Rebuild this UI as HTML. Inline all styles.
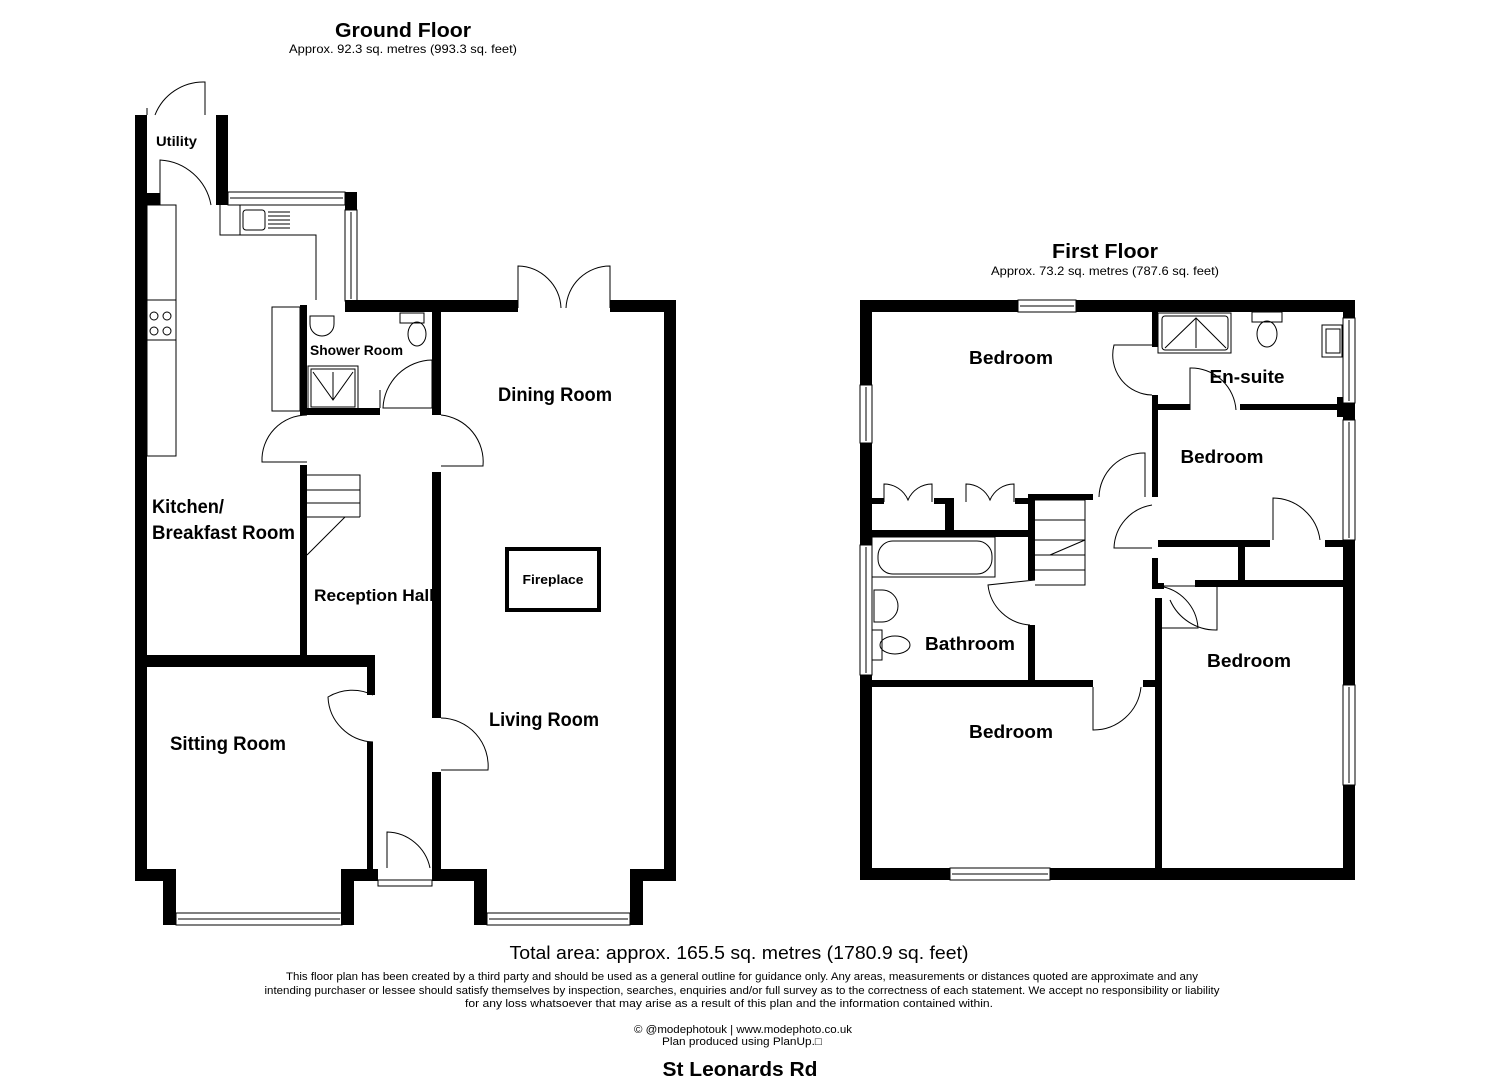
<!DOCTYPE html>
<html><head><meta charset="utf-8"><style>
html,body{margin:0;padding:0;background:#fff;}
svg{display:block;}
text{font-family:"Liberation Sans",sans-serif;fill:#000;}
.b{font-weight:bold;}
.t{fill:none;stroke:#000;stroke-width:1;}
.w{fill:#000;}
.win{fill:#fff;stroke:#000;stroke-width:1;}
</style></head><body>
<svg width="1485" height="1080" viewBox="0 0 1485 1080" xmlns="http://www.w3.org/2000/svg">
<!-- Titles -->
<text x="403" y="37" class="b" font-size="20" text-anchor="middle" textLength="136" lengthAdjust="spacingAndGlyphs">Ground Floor</text>
<text x="403" y="53" font-size="12" text-anchor="middle" textLength="228" lengthAdjust="spacingAndGlyphs">Approx. 92.3 sq. metres (993.3 sq. feet)</text>
<text x="1105" y="258" class="b" font-size="20" text-anchor="middle" textLength="106" lengthAdjust="spacingAndGlyphs">First Floor</text>
<text x="1105" y="275" font-size="12" text-anchor="middle" textLength="228" lengthAdjust="spacingAndGlyphs">Approx. 73.2 sq. metres (787.6 sq. feet)</text>

<!-- GROUND FLOOR walls -->
<rect class="w" x="135" y="115" width="12" height="766"/>
<rect class="w" x="135" y="869" width="41" height="12"/>
<rect class="w" x="163" y="869" width="13" height="56"/>
<rect class="win" x="176" y="913" width="166" height="12"/>
<line class="t" x1="178" y1="919" x2="340" y2="919"/>
<rect class="w" x="341" y="869" width="13" height="56"/>
<rect class="w" x="341" y="869" width="37" height="12"/>
<rect class="w" x="216" y="115" width="12" height="90"/>
<rect class="w" x="147" y="193" width="13" height="12"/>
<rect class="win" x="228" y="192" width="117" height="13"/>
<line class="t" x1="230" y1="198" x2="343" y2="198"/>
<rect class="w" x="345" y="192" width="12" height="18"/>
<rect class="win" x="345" y="210" width="12" height="91"/>
<line class="t" x1="351" y1="212" x2="351" y2="299"/>
<rect class="w" x="345" y="300" width="173" height="12"/>
<rect class="w" x="610" y="300" width="66" height="12"/>
<rect class="w" x="664" y="300" width="12" height="581"/>
<rect class="w" x="630" y="869" width="46" height="12"/>
<rect class="w" x="630" y="869" width="13" height="56"/>
<rect class="win" x="487" y="913" width="143" height="12"/>
<line class="t" x1="489" y1="919" x2="628" y2="919"/>
<rect class="w" x="474" y="869" width="13" height="56"/>
<rect class="w" x="432" y="869" width="55" height="12"/>
<!-- shower room -->
<rect class="w" x="300" y="305" width="7" height="110"/>
<rect class="w" x="300" y="408" width="80" height="7"/>
<rect class="w" x="432" y="305" width="9" height="110"/>
<!-- hall / living wall -->
<rect class="w" x="432" y="472" width="9" height="246"/>
<rect class="w" x="432" y="772" width="9" height="108"/>
<!-- kitchen/hall wall -->
<rect class="w" x="300" y="465" width="7" height="200"/>
<rect class="w" x="147" y="655" width="228" height="12"/>
<rect class="w" x="367" y="655" width="8" height="40"/>
<rect class="w" x="367" y="742" width="6" height="127"/>
<!-- doors ground -->
<path class="t" d="M147 115 L147 108 M155 115 A52 52 0 0 1 205 82 L205 115"/>
<path class="t" d="M160 205 L160 160 A55 55 0 0 1 211 205"/>
<path class="t" d="M518 308 L518 266 A44 44 0 0 1 561 308 M610 308 L610 266 A44 44 0 0 0 566 308"/>
<path class="t" d="M380 408 L380 390 M432 360 A50 50 0 0 0 383 408 L432 408 M432 360 L432 408"/>
<path class="t" d="M307 415 A45 45 0 0 0 262 462 L307 462"/>
<path class="t" d="M441 415 A47 47 0 0 1 483 466 L441 466"/>
<path class="t" d="M373 695 A47 47 0 0 0 328 697 A47 47 0 0 0 373 742"/>
<path class="t" d="M441 718 A48 48 0 0 1 488 770 L441 770"/>
<path class="t" d="M387 868 L387 832 A45 45 0 0 1 430 868"/>
<rect class="t" x="378" y="880" width="54" height="6"/>
<!-- kitchen fittings -->
<rect class="t" x="147" y="205" width="29" height="251"/>
<line class="t" x1="147" y1="300" x2="176" y2="300"/><line class="t" x1="147" y1="340" x2="176" y2="340"/>
<circle class="t" cx="154" cy="316" r="4"/><circle class="t" cx="167" cy="316" r="4"/>
<circle class="t" cx="154" cy="331" r="4"/><circle class="t" cx="167" cy="331" r="4"/>
<path class="t" d="M220 205 L220 235 L316 235 L316 300"/>
<line class="t" x1="240" y1="205" x2="240" y2="235"/>
<rect class="t" x="243" y="210" width="22" height="20" rx="3"/>
<path class="t" d="M268 212 h22 M268 216 h22 M268 220 h22 M268 224 h22 M268 228 h22"/>
<rect class="t" x="272" y="307" width="28" height="104"/>
<!-- shower room fittings -->
<path class="t" d="M310 316 h24 v8 a12 12 0 0 1 -24 0 z"/>
<rect class="t" x="400" y="313" width="24" height="10"/>
<ellipse class="t" cx="417" cy="334" rx="9" ry="12"/>
<rect class="t" x="308" y="366" width="50" height="44"/>
<rect class="t" x="311" y="369" width="44" height="38"/>
<path class="t" d="M313 372 L333 400 L353 372 M333 372 L333 400"/>
<!-- stairs -->
<path class="t" d="M307 475 L360 475 L360 490 L307 490 M307 503 L360 503 M307 517 L360 517 L345 517 L307 555 M360 490 L360 517"/>
<!-- fireplace -->
<rect x="507" y="549" width="92" height="61" fill="none" stroke="#000" stroke-width="4"/>
<!-- ground labels -->
<text x="156" y="146" class="b" font-size="14" textLength="41" lengthAdjust="spacingAndGlyphs">Utility</text>
<text x="310" y="355" class="b" font-size="14" textLength="93" lengthAdjust="spacingAndGlyphs">Shower Room</text>
<text x="555" y="401" class="b" font-size="19" text-anchor="middle" textLength="114" lengthAdjust="spacingAndGlyphs">Dining Room</text>
<text x="152" y="513" class="b" font-size="19" textLength="72" lengthAdjust="spacingAndGlyphs">Kitchen/</text>
<text x="152" y="539" class="b" font-size="19" textLength="143" lengthAdjust="spacingAndGlyphs">Breakfast Room</text>
<text x="553" y="584" class="b" font-size="13" text-anchor="middle" textLength="61" lengthAdjust="spacingAndGlyphs">Fireplace</text>
<text x="314" y="601" class="b" font-size="17" textLength="120" lengthAdjust="spacingAndGlyphs">Reception Hall</text>
<text x="489" y="726" class="b" font-size="19" textLength="110" lengthAdjust="spacingAndGlyphs">Living Room</text>
<text x="170" y="750" class="b" font-size="19" textLength="116" lengthAdjust="spacingAndGlyphs">Sitting Room</text>

<!-- FIRST FLOOR outer -->
<rect class="w" x="860" y="300" width="495" height="12"/>
<rect class="w" x="860" y="868" width="495" height="12"/>
<rect class="w" x="860" y="300" width="12" height="580"/>
<rect class="w" x="1343" y="300" width="12" height="580"/>
<rect class="win" x="1018" y="300" width="58" height="12"/><line class="t" x1="1020" y1="306" x2="1074" y2="306"/>
<rect class="win" x="950" y="868" width="100" height="12"/><line class="t" x1="952" y1="874" x2="1048" y2="874"/>
<rect class="win" x="860" y="385" width="12" height="58"/><line class="t" x1="866" y1="387" x2="866" y2="441"/>
<rect class="win" x="860" y="545" width="12" height="130"/><line class="t" x1="866" y1="547" x2="866" y2="673"/>
<rect class="win" x="1343" y="318" width="12" height="85"/><line class="t" x1="1349" y1="320" x2="1349" y2="401"/>
<rect class="win" x="1343" y="420" width="12" height="120"/><line class="t" x1="1349" y1="422" x2="1349" y2="538"/>
<rect class="win" x="1343" y="685" width="12" height="100"/><line class="t" x1="1349" y1="687" x2="1349" y2="783"/>
<!-- first floor internal -->
<rect class="w" x="1152" y="312" width="6" height="35"/>
<rect class="w" x="1152" y="395" width="6" height="102"/>
<rect class="w" x="1158" y="404" width="32" height="6"/>
<rect class="w" x="1240" y="404" width="103" height="6"/>
<rect class="w" x="1337" y="397" width="6" height="20"/>
<rect class="w" x="872" y="498" width="12" height="6"/>
<rect class="w" x="934" y="498" width="20" height="6"/>
<rect class="w" x="945" y="498" width="9" height="36"/>
<rect class="w" x="1015" y="498" width="14" height="6"/>
<rect class="w" x="1028" y="494" width="65" height="6"/>
<rect class="w" x="872" y="530" width="157" height="7"/>
<rect class="w" x="1028" y="494" width="7" height="86"/>
<rect class="w" x="1028" y="625" width="7" height="60"/>
<rect class="w" x="872" y="680" width="221" height="7"/>
<rect class="w" x="1143" y="680" width="15" height="7"/>
<rect class="w" x="1158" y="540" width="112" height="7"/>
<rect class="w" x="1325" y="540" width="18" height="7"/>
<rect class="w" x="1238" y="545" width="7" height="40"/>
<rect class="w" x="1195" y="580" width="148" height="7"/>
<rect class="w" x="1152" y="558" width="6" height="28"/>
<rect class="w" x="1152" y="583" width="12" height="6"/>
<rect class="w" x="1155" y="598" width="7" height="272"/>
<!-- first floor doors -->
<path class="t" d="M1152 345 L1114 345 A40 40 0 0 0 1152 395"/>
<path class="t" d="M1190 410 L1190 368 A45 45 0 0 1 1236 410"/>
<path class="t" d="M1145 497 L1145 453 A45 45 0 0 0 1099 497"/>
<path class="t" d="M1152 505 A45 45 0 0 0 1114 548 L1152 548"/>
<path class="t" d="M1273 540 L1273 498 A48 48 0 0 1 1320 540"/>
<path class="t" d="M1158 586 A45 45 0 0 1 1198 628 L1158 628"/>
<path class="t" d="M1158 586 L1195 586 M1217 587 L1217 630 A50 50 0 0 1 1170 600"/>
<path class="t" d="M1035 580 L988 585 A45 45 0 0 0 1030 625"/>
<path class="t" d="M1093 687 L1093 730 A48 48 0 0 0 1141 687"/>
<path class="t" d="M884 502 L884 484 A26 26 0 0 1 908 500 A26 26 0 0 1 932 484 L932 502"/>
<path class="t" d="M966 502 L966 484 A26 26 0 0 1 990 500 A26 26 0 0 1 1014 484 L1014 502"/>
<!-- first floor fittings -->
<rect class="t" x="1158" y="313" width="73" height="40"/>
<rect class="t" x="1162" y="316" width="66" height="34" rx="3"/>
<path class="t" d="M1165 348 L1196 318 L1226 348 M1196 318 L1196 348"/>
<rect class="t" x="1252" y="312" width="30" height="10"/>
<ellipse class="t" cx="1267" cy="334" rx="10" ry="13"/>
<rect class="t" x="1322" y="325" width="20" height="32"/><rect class="t" x="1326" y="329" width="14" height="24"/>
<rect class="t" x="872" y="537" width="123" height="40"/>
<rect class="t" x="878" y="541" width="114" height="33" rx="15"/>
<path class="t" d="M874 590 h8 a16 16 0 0 1 0 32 h-8 z"/>
<rect class="t" x="872" y="630" width="10" height="30"/>
<ellipse class="t" cx="895" cy="645" rx="15" ry="9"/>
<path class="t" d="M1035 500 L1085 500 L1085 585 L1035 585 M1035 570 L1085 570 M1035 555 L1085 555 M1035 540 L1085 540 L1050 555 M1035 520 L1085 520"/>
<!-- first floor labels -->
<text x="1011" y="364" class="b" font-size="18" text-anchor="middle" textLength="84" lengthAdjust="spacingAndGlyphs">Bedroom</text>
<text x="1247" y="383" class="b" font-size="18" text-anchor="middle" textLength="75" lengthAdjust="spacingAndGlyphs">En-suite</text>
<text x="1222" y="463" class="b" font-size="18" text-anchor="middle" textLength="83" lengthAdjust="spacingAndGlyphs">Bedroom</text>
<text x="970" y="650" class="b" font-size="18" text-anchor="middle" textLength="90" lengthAdjust="spacingAndGlyphs">Bathroom</text>
<text x="1249" y="667" class="b" font-size="18" text-anchor="middle" textLength="84" lengthAdjust="spacingAndGlyphs">Bedroom</text>
<text x="1011" y="738" class="b" font-size="18" text-anchor="middle" textLength="84" lengthAdjust="spacingAndGlyphs">Bedroom</text>

<!-- footer -->
<text x="739" y="959" font-size="18" text-anchor="middle" textLength="459" lengthAdjust="spacingAndGlyphs">Total area: approx. 165.5 sq. metres (1780.9 sq. feet)</text>
<text x="742" y="980" font-size="11" text-anchor="middle" textLength="912" lengthAdjust="spacingAndGlyphs">This floor plan has been created by a third party and should be used as a general outline for guidance only. Any areas, measurements or distances quoted are approximate and any</text>
<text x="742" y="994" font-size="11" text-anchor="middle" textLength="955" lengthAdjust="spacingAndGlyphs">intending purchaser or lessee should satisfy themselves by inspection, searches, enquiries and/or full survey as to the correctness of each statement. We accept no responsibility or liability</text>
<text x="729" y="1007" font-size="11" text-anchor="middle" textLength="528" lengthAdjust="spacingAndGlyphs">for any loss whatsoever that may arise as a result of this plan and the information contained within.</text>
<text x="743" y="1033" font-size="11" text-anchor="middle" textLength="218" lengthAdjust="spacingAndGlyphs">© @modephotouk | www.modephoto.co.uk</text>
<text x="742" y="1045" font-size="11" text-anchor="middle" textLength="160" lengthAdjust="spacingAndGlyphs">Plan produced using PlanUp.□</text>
<text x="740" y="1076" class="b" font-size="20" text-anchor="middle" textLength="155" lengthAdjust="spacingAndGlyphs">St Leonards Rd</text>
</svg>
</body></html>
